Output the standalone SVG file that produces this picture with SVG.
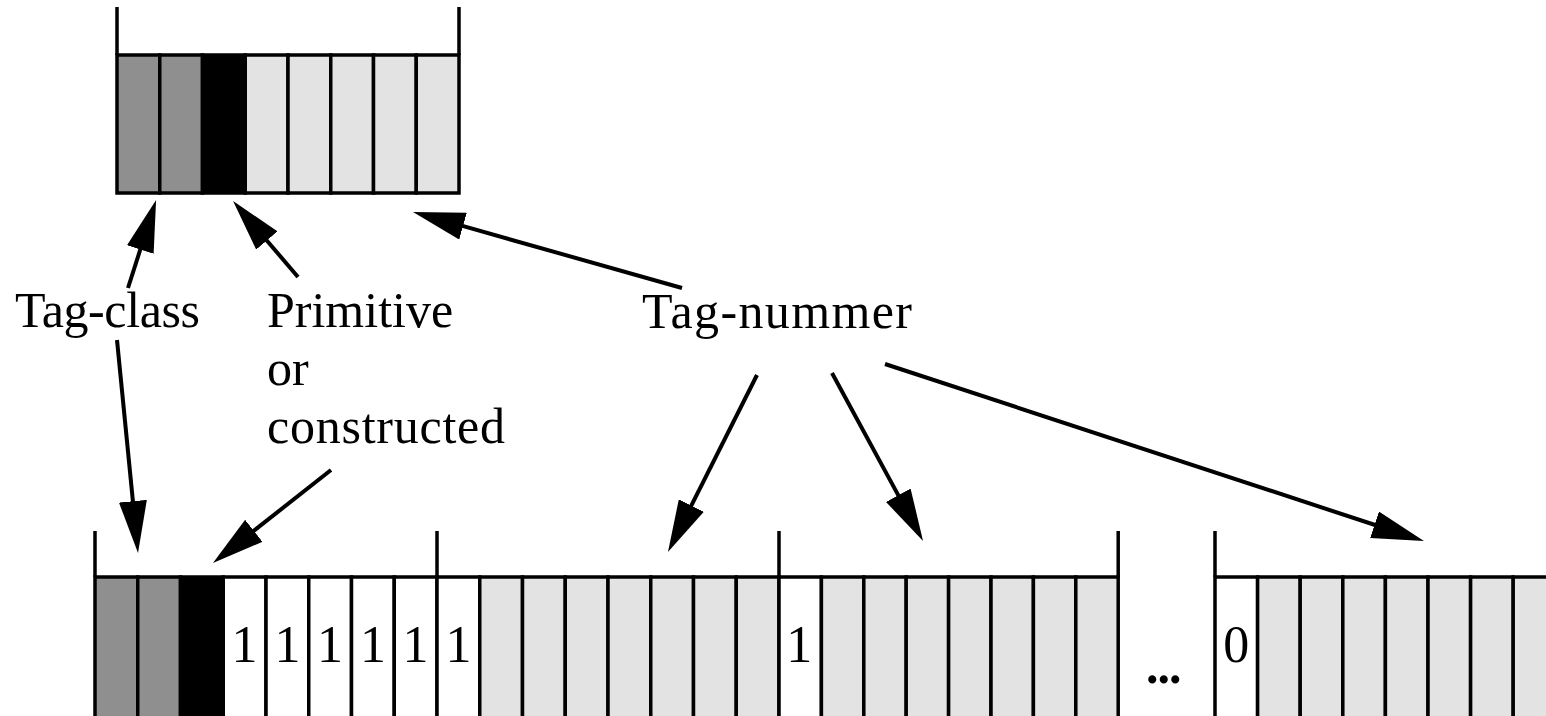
<svg xmlns="http://www.w3.org/2000/svg" width="1546" height="716" viewBox="0 0 1546 716">
  <style>
    .cell { stroke: #000; stroke-width: 3.5; }
    .mid { fill: #8f8f8f; }
    .dark { fill: #000; }
    .light { fill: #e3e3e3; }
    .blank { fill: #fff; }
    .edge { stroke: #000; stroke-width: 3.5; fill: none; }
    .label { font-family: "Liberation Serif", "Times New Roman", serif; font-size: 50px; fill: #000; }
    .bit { font-family: "Liberation Serif", "Times New Roman", serif; font-size: 52px; fill: #000; text-anchor: middle; }
    .conn { stroke: #000; stroke-width: 4; fill: none; marker-end: url(#head); }
  </style>
  <defs>
    <marker id="head" markerUnits="userSpaceOnUse" markerWidth="52" markerHeight="28" refX="7" refY="14" orient="auto">
      <path d="M0,0 L52,14 L0,28 z" fill="#000"/>
    </marker>
  </defs>
  <rect width="1546" height="716" fill="#fff"/>

  <!-- identifier octet (single byte form) -->
  <g id="octet-top">
    <rect class="cell mid" x="117" y="55" width="42.75" height="138"/>
    <rect class="cell mid" x="159.75" y="55" width="42.75" height="138"/>
    <rect class="cell dark" x="202.5" y="55" width="42.75" height="138"/>
    <rect class="cell light" x="245.25" y="55" width="42.75" height="138"/>
    <rect class="cell light" x="288" y="55" width="42.75" height="138"/>
    <rect class="cell light" x="330.75" y="55" width="42.75" height="138"/>
    <rect class="cell light" x="373.5" y="55" width="42.75" height="138"/>
    <rect class="cell light" x="416.25" y="55" width="42.75" height="138"/>
    <path class="edge" d="M117,7 V55 M459,7 V55"/>
  </g>

  <!-- identifier octets (multi byte form) -->
  <g id="octets-bottom">
    <!-- first octet -->
    <rect class="cell mid" x="95" y="577" width="42.75" height="160"/>
    <rect class="cell mid" x="137.75" y="577" width="42.75" height="160"/>
    <rect class="cell dark" x="180.5" y="577" width="42.75" height="160"/>
    <rect class="cell blank" x="223.25" y="577" width="42.75" height="160"/>
    <rect class="cell blank" x="266" y="577" width="42.75" height="160"/>
    <rect class="cell blank" x="308.75" y="577" width="42.75" height="160"/>
    <rect class="cell blank" x="351.5" y="577" width="42.75" height="160"/>
    <rect class="cell blank" x="394.25" y="577" width="42.75" height="160"/>
    <!-- second octet -->
    <rect class="cell blank" x="437" y="577" width="42.75" height="160"/>
    <rect class="cell light" x="479.75" y="577" width="42.75" height="160"/>
    <rect class="cell light" x="522.5" y="577" width="42.75" height="160"/>
    <rect class="cell light" x="565.25" y="577" width="42.75" height="160"/>
    <rect class="cell light" x="608" y="577" width="42.75" height="160"/>
    <rect class="cell light" x="650.75" y="577" width="42.75" height="160"/>
    <rect class="cell light" x="693.5" y="577" width="42.75" height="160"/>
    <rect class="cell light" x="736.25" y="577" width="42.75" height="160"/>
    <!-- third octet -->
    <rect class="cell blank" x="779" y="577" width="42.4" height="160"/>
    <rect class="cell light" x="821.4" y="577" width="42.4" height="160"/>
    <rect class="cell light" x="863.8" y="577" width="42.4" height="160"/>
    <rect class="cell light" x="906.2" y="577" width="42.4" height="160"/>
    <rect class="cell light" x="948.6" y="577" width="42.4" height="160"/>
    <rect class="cell light" x="991" y="577" width="42.4" height="160"/>
    <rect class="cell light" x="1033.4" y="577" width="42.4" height="160"/>
    <rect class="cell light" x="1075.8" y="577" width="42.4" height="160"/>
    <!-- last octet -->
    <rect class="cell blank" x="1215" y="577" width="42.6" height="160"/>
    <rect class="cell light" x="1257.6" y="577" width="42.6" height="160"/>
    <rect class="cell light" x="1300.2" y="577" width="42.6" height="160"/>
    <rect class="cell light" x="1342.8" y="577" width="42.6" height="160"/>
    <rect class="cell light" x="1385.4" y="577" width="42.6" height="160"/>
    <rect class="cell light" x="1428" y="577" width="42.6" height="160"/>
    <rect class="cell light" x="1470.6" y="577" width="42.6" height="160"/>
    <rect class="cell light" x="1513.2" y="577" width="42.6" height="160"/>
    <!-- octet boundaries -->
    <path class="edge" d="M95,531 V577 M437,531 V577 M779,531 V577 M1118.2,531 V577 M1215,531 V577"/>
    <!-- bit values -->
    <text class="bit" x="244.6" y="662">1</text>
    <text class="bit" x="287.4" y="662">1</text>
    <text class="bit" x="330.1" y="662">1</text>
    <text class="bit" x="372.9" y="662">1</text>
    <text class="bit" x="415.6" y="662">1</text>
    <text class="bit" x="458.4" y="662">1</text>
    <text class="bit" x="799.2" y="662">1</text>
    <text class="bit" x="1236.3" y="662">0</text>
  </g>

  <g id="ellipsis">
    <text class="label" x="1146" y="683" font-size="60" font-weight="bold" style="letter-spacing:-1px">...</text>
  </g>

  <g id="label-tag-class">
    <text class="label" x="15" y="327" textLength="185" lengthAdjust="spacing">Tag-class</text>
  </g>
  <g id="label-primitive">
    <text class="label" x="267" y="327">Primitive</text>
    <text class="label" x="267" y="385">or</text>
    <text class="label" x="267" y="443" textLength="238" lengthAdjust="spacing">constructed</text>
  </g>
  <g id="label-tag-nummer">
    <text class="label" x="642" y="328" textLength="270" lengthAdjust="spacing">Tag-nummer</text>
  </g>

  <g id="connectors">
    <path class="conn" d="M128,288 L142.4,242.9"/>
    <path class="conn" d="M298,277 L262.3,235.2"/>
    <path class="conn" d="M682,288 L456.3,224.2"/>
    <path class="conn" d="M117,340 L133.6,508.2"/>
    <path class="conn" d="M331,470 L248.3,535.1"/>
    <path class="conn" d="M757,375 L688.2,511.8"/>
    <path class="conn" d="M832,373 L901.6,501.4"/>
    <path class="conn" d="M885,364 L1381.2,527"/>
  </g>
</svg>
